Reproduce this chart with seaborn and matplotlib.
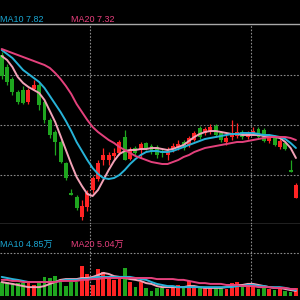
import numpy as np
import pandas as pd
import matplotlib
matplotlib.use("Agg")
import matplotlib.pyplot as plt
import seaborn as sns

# ---------------- data ----------------
opens = [8.20, 8.08, 7.96, 7.83, 7.85, 7.73, 7.86, 7.90, 7.73, 7.55,
         7.43, 7.33, 7.12, 6.82, 6.78, 6.58, 6.68, 6.85, 6.96, 7.15,
         7.15, 7.19, 7.22, 7.38, 7.16, 7.27, 7.26, 7.32, 7.29, 7.28,
         7.24, 7.20, 7.26, 7.27, 7.33, 7.30, 7.35, 7.47, 7.42, 7.43,
         7.49, 7.42, 7.33, 7.38, 7.39, 7.43, 7.38, 7.42, 7.46, 7.45,
         7.34, 7.38, 7.28, 7.32, 7.05, 6.77]
closes = [7.99, 7.93, 7.83, 7.73, 7.72, 7.85, 7.90, 7.70, 7.55, 7.40,
          7.33, 7.13, 6.97, 6.80, 6.67, 6.69, 6.82, 6.97, 7.12, 7.20,
          7.20, 7.22, 7.33, 7.15, 7.25, 7.22, 7.31, 7.27, 7.23, 7.20,
          7.22, 7.23, 7.29, 7.31, 7.27, 7.37, 7.42, 7.38, 7.46, 7.48,
          7.40, 7.35, 7.37, 7.42, 7.43, 7.38, 7.42, 7.44, 7.38, 7.34,
          7.39, 7.30, 7.34, 7.26, 7.03, 6.90]
highs = [8.23, 8.11, 7.98, 7.85, 7.89, 7.87, 7.95, 7.92, 7.75, 7.57,
         7.45, 7.35, 7.13, 6.86, 6.80, 6.75, 6.85, 6.99, 7.15, 7.27,
         7.23, 7.27, 7.35, 7.45, 7.28, 7.29, 7.33, 7.33, 7.31, 7.30,
         7.26, 7.28, 7.32, 7.35, 7.35, 7.39, 7.44, 7.49, 7.48, 7.51,
         7.51, 7.44, 7.40, 7.55, 7.52, 7.45, 7.44, 7.48, 7.48, 7.47,
         7.41, 7.40, 7.36, 7.33, 7.15, 6.92]
lows = [7.96, 7.90, 7.80, 7.71, 7.71, 7.71, 7.85, 7.65, 7.52, 7.37,
        7.20, 7.12, 6.95, 6.80, 6.65, 6.55, 6.64, 6.82, 6.94, 7.10,
        7.10, 7.15, 7.20, 7.15, 7.15, 7.20, 7.17, 7.25, 7.21, 7.17,
        7.18, 7.15, 7.23, 7.25, 7.25, 7.28, 7.34, 7.36, 7.40, 7.41,
        7.38, 7.33, 7.30, 7.35, 7.37, 7.36, 7.36, 7.40, 7.36, 7.33,
        7.32, 7.29, 7.26, 7.25, 7.03, 6.77]

ma5 = [8.19, 8.15, 8.08, 7.98, 7.92, 7.88, 7.85, 7.82, 7.75, 7.64,
       7.53, 7.39, 7.25, 7.11, 6.98, 6.89, 6.81, 6.79, 6.85, 6.95,
       7.05, 7.14, 7.21, 7.24, 7.25, 7.25, 7.26, 7.26, 7.27, 7.27,
       7.26, 7.25, 7.26, 7.28, 7.30, 7.34, 7.38, 7.41, 7.43, 7.44,
       7.44, 7.43, 7.42, 7.41, 7.41, 7.40, 7.40, 7.40, 7.40, 7.39,
       7.39, 7.38, 7.37, 7.33, 7.27, 7.17]
ma10 = [8.25, 8.21, 8.17, 8.11, 8.05, 8.01, 7.97, 7.93, 7.87, 7.79,
        7.71, 7.63, 7.54, 7.44, 7.33, 7.24, 7.15, 7.07, 7.01, 6.97,
        6.96, 6.97, 7.00, 7.05, 7.11, 7.16, 7.20, 7.23, 7.24, 7.24,
        7.23, 7.23, 7.24, 7.26, 7.28, 7.30, 7.32, 7.34, 7.36, 7.37,
        7.38, 7.39, 7.40, 7.41, 7.41, 7.42, 7.42, 7.42, 7.41, 7.40,
        7.40, 7.39, 7.38, 7.36, 7.32, 7.27]
ma20 = [8.26, 8.24, 8.22, 8.20, 8.18, 8.16, 8.14, 8.12, 8.10, 8.07,
        8.02, 7.96, 7.89, 7.81, 7.71, 7.63, 7.55, 7.48, 7.43, 7.39,
        7.35, 7.32, 7.28, 7.25, 7.22, 7.19, 7.17, 7.15, 7.13, 7.12,
        7.11, 7.11, 7.13, 7.15, 7.18, 7.20, 7.23, 7.25, 7.27, 7.28,
        7.29, 7.30, 7.31, 7.32, 7.33, 7.33, 7.34, 7.35, 7.36, 7.37,
        7.38, 7.38, 7.38, 7.38, 7.37, 7.35]

# volume in 万
volume = [5.2, 5.2, 4.8, 4.8, 4.8, 4.8, 4.1, 4.8, 7.1, 6.7,
          7.4, 6.3, 3.7, 5.2, 5.2, 11.2, 8.2, 4.1, 10.0, 8.9,
          6.7, 6.0, 6.3, 10.4, 5.2, 3.3, 5.2, 3.0, 1.9, 3.0,
          3.0, 2.6, 3.0, 4.1, 3.3, 5.6, 3.7, 3.3, 3.0, 3.0,
          3.3, 3.0, 2.6, 4.8, 5.2, 3.3, 4.1, 3.3, 2.6, 3.3,
          2.6, 2.2, 2.6, 1.9, 1.5, 3.0]
vol_ma5 = [5.2, 4.8, 4.5, 4.1, 3.7, 3.3, 3.3, 3.3, 3.7, 4.5,
           5.2, 6.0, 6.3, 6.3, 6.3, 6.7, 6.7, 7.1, 7.8, 8.6,
           8.2, 7.4, 7.1, 6.7, 6.3, 6.0, 5.6, 4.8, 4.5, 3.7,
           3.3, 3.3, 3.3, 3.3, 3.3, 3.7, 3.7, 3.3, 3.0, 3.0,
           3.0, 3.0, 3.3, 3.7, 4.1, 4.1, 4.5, 4.5, 4.1, 3.7,
           3.3, 3.0, 3.0, 2.6, 2.2, 1.9]
vol_ma10 = [7.1, 6.7, 6.3, 6.0, 5.6, 5.2, 5.2, 5.2, 5.2, 5.2,
            5.2, 5.6, 6.0, 6.0, 6.0, 6.3, 6.3, 6.7, 7.1, 7.1,
            7.1, 7.1, 7.1, 7.1, 7.1, 6.7, 6.3, 6.0, 5.2, 4.5,
            4.1, 3.7, 3.7, 3.3, 3.3, 3.3, 3.3, 3.3, 3.3, 3.3,
            3.3, 3.3, 3.3, 3.3, 3.7, 3.7, 4.1, 4.1, 3.7, 3.7,
            3.3, 3.3, 3.3, 3.0, 2.6, 2.2]
vol_ma20 = [6.0, 6.0, 5.6, 5.6, 5.2, 5.2, 5.2, 5.2, 5.2, 5.2,
            5.2, 5.6, 5.6, 5.6, 5.6, 6.0, 6.0, 6.3, 6.3, 6.7,
            6.7, 6.7, 6.7, 6.7, 6.7, 6.7, 6.7, 6.7, 6.7, 6.3,
            6.3, 6.3, 6.3, 6.0, 6.0, 5.6, 5.2, 4.8, 4.8, 4.5,
            4.5, 4.5, 4.1, 4.1, 4.1, 3.7, 3.7, 3.7, 3.3, 3.3,
            3.3, 3.0, 3.0, 3.0, 2.6, 2.6]

label_main = [("MA10 7.82", "#1aa6d2"), ("MA20 7.32", "#e83f7d")]
label_vol = [("MA10 4.85万", "#1aa6d2"), ("MA20 5.04万", "#e83f7d")]

# ---------------- style ----------------
sns.set_theme(style="dark")
plt.rcParams["font.family"] = ["Liberation Sans", "Noto Sans CJK SC", "DejaVu Sans"]

UP = "#ff2424"
DOWN = "#1fa61f"
C5 = "#f3a2b7"
C10 = "#27b3d8"
C20 = "#e4417c"
GRID = "#8a8a8a"
SOLID = "#a8a8a8"

n = len(opens)
idx = np.arange(n)
df = pd.DataFrame({"i": idx, "open": opens, "close": closes, "high": highs,
                   "low": lows, "ma5": ma5, "ma10": ma10, "ma20": ma20,
                   "vol": volume, "vma5": vol_ma5, "vma10": vol_ma10,
                   "vma20": vol_ma20})
colors = [UP if c >= o else DOWN for o, c in zip(opens, closes)]

fig = plt.figure(figsize=(3, 3), dpi=100, facecolor="black")
ax = fig.add_axes([0, 1 - 224 / 300, 1, 200 / 300])
axv = fig.add_axes([0, 1 - 296 / 300, 1, 72 / 300])

xlim = (-0.318, 55.76)
for a in (ax, axv):
    a.set_facecolor("black")
    a.set_xlim(*xlim)
    a.set_xticks([])
    a.set_yticks([])
    a.grid(False)
    for s in a.spines.values():
        s.set_visible(False)
    for xv in (16.5, 46.6):
        a.axvline(xv, color=GRID, lw=0.8, ls=(0, (1.5, 1.5)), zorder=1)

ax.set_ylim(6.51, 8.51)
for yv in (8.0, 7.5, 7.0):
    ax.axhline(yv, color=GRID, lw=0.8, ls=(0, (1.5, 1.5)), zorder=1)
ax.spines["top"].set_visible(True)
ax.spines["top"].set_color(SOLID)
ax.spines["top"].set_linewidth(1.0)
ax.spines["bottom"].set_visible(True)
ax.spines["bottom"].set_color(SOLID)
ax.spines["bottom"].set_linewidth(1.0)

# candles
ax.vlines(df["i"], df["low"], df["high"], colors=colors, lw=0.9, zorder=2)
body_bottom = np.minimum(df["open"], df["close"])
body_h = np.maximum(np.abs(df["close"] - df["open"]), 0.012)
ax.bar(df["i"], body_h, bottom=body_bottom, width=0.74, color=colors,
       linewidth=0, zorder=3)

for col, c in (("ma5", C5), ("ma10", C10), ("ma20", C20)):
    sns.lineplot(data=df, x="i", y=col, ax=ax, color=c, lw=1.4, zorder=4)

# volume
vmax = 72 * 0.372
axv.set_ylim(0, vmax)
axv.axhline(16.0, color=GRID, lw=0.8, ls=(0, (1.5, 1.5)), zorder=1)
axv.axhline(0.05, color=GRID, lw=0.8, ls=(0, (1.5, 1.5)), zorder=5)
axv.bar(df["i"], df["vol"], width=0.7, color=colors, linewidth=0, zorder=2)
for col, c in (("vma5", C5), ("vma10", C10), ("vma20", C20)):
    sns.lineplot(data=df, x="i", y=col, ax=axv, color=c, lw=1.4, zorder=4)

for a in (ax, axv):
    a.set_xlabel("")
    a.set_ylabel("")

# labels
for (txt, c), xp in zip(label_main, (0, 71)):
    fig.text(xp / 300, 1 - 20 / 300, txt, color=c, fontsize=6.5,
             ha="left", va="center")
for (txt, c), xp in zip(label_vol, (0, 71)):
    fig.text(xp / 300, 1 - 245 / 300, txt, color=c, fontsize=6.5,
             ha="left", va="center")

fig.savefig("out.png", dpi=100, facecolor="black")
